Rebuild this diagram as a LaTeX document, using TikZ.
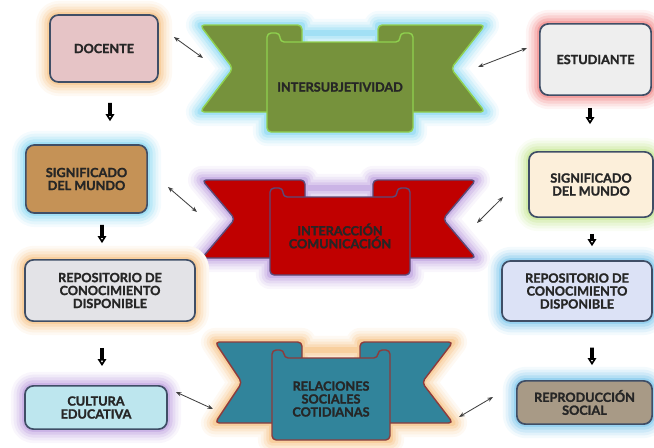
\documentclass[tikz,border=0pt]{standalone}
\usepackage{fontspec}
\setmainfont{Lato}[BoldFeatures={FakeBold=1.6}]
\usetikzlibrary{arrows.meta, positioning, calc}

% colours
\definecolor{boxline}{HTML}{3F4E66}
\definecolor{fdoc}{HTML}{E6C4C6}
\definecolor{fest}{HTML}{EEEEEE}
\definecolor{fcork}{HTML}{C59256}
\definecolor{fcream}{HTML}{FCEFDA}
\definecolor{fmarble}{HTML}{E3E3E7}
\definecolor{fsky}{HTML}{DCE2F6}
\definecolor{faqua}{HTML}{BDE6EE}
\definecolor{fgravel}{HTML}{A89A86}
\definecolor{gpeach}{HTML}{F8CF9E}
\definecolor{grose}{HTML}{F4A0A0}
\definecolor{gcyan}{HTML}{A2E0F5}
\definecolor{glime}{HTML}{D2ECAA}
\definecolor{gblue}{HTML}{98D2F0}
\definecolor{glilac}{HTML}{CBB4E6}
\definecolor{olive}{HTML}{76923C}
\definecolor{olivelin}{HTML}{8FD14F}
\definecolor{crimson}{HTML}{C00000}
\definecolor{crimsonlin}{HTML}{5A4A78}
\definecolor{teal}{HTML}{31849B}
\definecolor{teallin}{HTML}{8E3B3B}

\tikzset{
  glow/.style={
    preaction={draw=#1!12, line width=20pt, line join=round},
    preaction={draw=#1!28, line width=16pt, line join=round},
    preaction={draw=#1!48, line width=12pt, line join=round},
    preaction={draw=#1!72, line width=8pt, line join=round},
    preaction={draw=#1, line width=4pt, line join=round}},
  box/.style={rectangle, rounded corners=6pt, draw=boxline, line width=1.2pt,
    align=center, inner sep=2pt, text=black!85,
    font=\bfseries\fontsize{9}{9.2}\selectfont},
  bannertext/.style={align=center, text=black!85,
    font=\bfseries\fontsize{9}{9.2}\selectfont},
  banner/.style={line width=1pt, line join=round, rounded corners=3pt},
  link/.style={{Stealth[length=4pt,width=3pt]}-{Stealth[length=4pt,width=3pt]},
    line width=0.6pt, draw=black!75},
  down/.style={line width=2.6pt,
    -{Triangle[open, length=5pt, width=6pt, line width=1.2pt]}}
}

\begin{document}
\begin{tikzpicture}[x=0.025cm, y=-0.025cm]
	\useasboundingbox (0,0) rectangle (654,448);
	
	% 1. Intersubjetividad banner (green)
	\path[glow=gcyan]
	  (200,25) -- (302,25) -- (302,112) -- (200,112) -- (233,68.5) -- cycle
	  (485,25) -- (378,25) -- (378,112) -- (485,112) -- (451,68.5) -- cycle
	  (267,33) rectangle (413,132);
	\draw[banner, fill=olive, draw=olivelin]
	  (200,25) -- (302,25) -- (302,112) -- (200,112) -- (233,68.5) -- cycle;
	\draw[banner, fill=olive, draw=olivelin]
	  (485,25) -- (378,25) -- (378,112) -- (485,112) -- (451,68.5) -- cycle;
	\draw[banner, fill=olive, draw=olivelin]
	  (267,132) -- (267,33) -- (280,33) -- (280,42) -- (400,42) -- (400,33)
	  -- (413,33) -- (413,132) -- cycle;
	\node[bannertext] (inter) at (340,87) {INTERSUBJETIVIDAD};
	\coordinate (interW) at (233,68.5);
	\coordinate (interE) at (451,68.5);
	
	% 2. Interaccion banner (red)
	\path[glow=glilac]
	  (202,180) -- (305,180) -- (305,258) -- (202,258) -- (235,219) -- cycle
	  (476,180) -- (373,180) -- (373,258) -- (476,258) -- (443,219) -- cycle
	  (270,188) rectangle (410,275);
	\draw[banner, fill=crimson, draw=crimsonlin]
	  (202,180) -- (305,180) -- (305,258) -- (202,258) -- (235,219) -- cycle;
	\draw[banner, fill=crimson, draw=crimsonlin]
	  (476,180) -- (373,180) -- (373,258) -- (476,258) -- (443,219) -- cycle;
	\draw[banner, fill=crimson, draw=crimsonlin]
	  (270,275) -- (270,188) -- (283,188) -- (283,197) -- (397,197) -- (397,188)
	  -- (410,188) -- (410,275) -- cycle;
	\node[bannertext] (com) at (340,236) {INTERACCIÓN\\COMUNICACIÓN};
	\coordinate (comW) at (235,219);
	\coordinate (comE) at (443,219);
	
	% 3. Relaciones banner (teal)
	\path[glow=gpeach]
	  (215,342) -- (302,342) -- (302,423) -- (215,423) -- (242,382.5) -- cycle
	  (453,342) -- (360,342) -- (360,423) -- (453,423) -- (422,382.5) -- cycle
	  (272,350) rectangle (390,440);
	\draw[banner, fill=teal, draw=teallin]
	  (215,342) -- (302,342) -- (302,423) -- (215,423) -- (242,382.5) -- cycle;
	\draw[banner, fill=teal, draw=teallin]
	  (453,342) -- (360,342) -- (360,423) -- (453,423) -- (422,382.5) -- cycle;
	\draw[banner, fill=teal, draw=teallin]
	  (272,440) -- (272,350) -- (284,350) -- (284,358) -- (378,358) -- (378,350)
	  -- (390,350) -- (390,440) -- cycle;
	\node[bannertext] (rel) at (331,399) {RELACIONES\\SOCIALES\\COTIDIANAS};
	\coordinate (relW) at (242,382.5);
	\coordinate (relE) at (422,382.5);
	
	% 4. Left column boxes
	\node[box, glow=gpeach, fill=fdoc, minimum width=2.7cm, minimum height=1.675cm]
	  (doc) at (104,48.5) {DOCENTE};
	\node[box, glow=gcyan, fill=fcork, minimum width=3.03cm, minimum height=1.7cm]
	  (sigL) at (86.5,179) {SIGNIFICADO\\DEL MUNDO};
	\node[box, glow=gpeach, fill=fmarble, minimum width=4.25cm, minimum height=1.53cm]
	  (repL) at (110,290.5) {REPOSITORIO DE\\CONOCIMIENTO\\DISPONIBLE};
	\node[box, glow=glilac, fill=faqua, minimum width=3.55cm, minimum height=1.08cm]
	  (cul) at (96,407.5) {CULTURA\\EDUCATIVA};
	
	% 5. Right column boxes
	\node[box, glow=grose, fill=fest, minimum width=2.78cm, minimum height=1.78cm]
	  (est) at (595.5,59.5) {ESTUDIANTE};
	\node[box, glow=glime, fill=fcream, minimum width=3.1cm, minimum height=1.63cm]
	  (sigR) at (591,184.5) {SIGNIFICADO\\DEL MUNDO};
	\node[box, glow=gblue, fill=fsky, minimum width=3.75cm, minimum height=1.5cm]
	  (repR) at (577,291) {REPOSITORIO DE\\CONOCIMIENTO\\DISPONIBLE};
	\node[box, glow=gblue, fill=fgravel, minimum width=3.38cm, minimum height=1.08cm]
	  (rep) at (584.5,402.5) {REPRODUCCIÓN\\SOCIAL};
	
	% 6. Downward arrows
	\draw[down, shorten <=14.2pt, shorten >=16.3pt]
	  ([shift={(6,0)}]doc.south) -- ([shift={(23.5,0)}]sigL.north);
	\draw[down, shorten <=7.8pt, shorten >=11.3pt]
	  ([shift={(15.5,0)}]sigL.south) -- ([shift={(-8,0)}]repL.north);
	\draw[down, shorten <=18.4pt, shorten >=13.5pt]
	  ([shift={(-8,0)}]repL.south) -- ([shift={(6,0)}]cul.north);
	\draw[down, shorten <=8.5pt, shorten >=19.1pt]
	  ([shift={(-5.5,0)}]est.south) -- ([shift={(-1,0)}]sigR.north);
	\draw[down, shorten <=11.3pt, shorten >=9.9pt]
	  ([shift={(1,0)}]sigR.south) -- ([shift={(15,0)}]repR.north);
	\draw[down, shorten <=18.4pt, shorten >=10.6pt]
	  ([shift={(15,0)}]repR.south) -- ([shift={(7.5,0)}]rep.north);
	
	% 7. Two-way links to the banners
	\draw[link] ([shift={(15,-11.5)}]doc.east) -- ([shift={(-30,-10.5)}]interW);
	\draw[link] ([shift={(-12,-11.5)}]est.west) -- ([shift={(27,-1.5)}]interE);
	\draw[link] ([shift={(20,8)}]sigL.east) -- ([shift={(-38,-7)}]comW);
	\draw[link] ([shift={(-25,12.5)}]sigR.west) -- ([shift={(34,4)}]comE);
	\draw[link] ([shift={(8,-15.5)}]cul.east) -- ([shift={(-29,26.5)}]relW);
	\draw[link] ([shift={(-23,-5.5)}]rep.west) -- ([shift={(37,34.5)}]relE);
	
\end{tikzpicture}
\end{document}
